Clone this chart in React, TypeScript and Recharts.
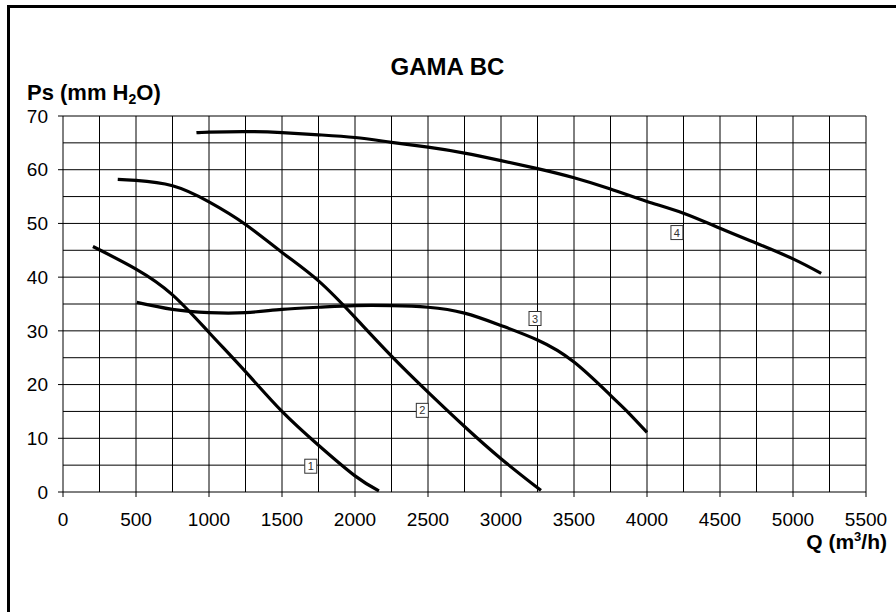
import React from 'react';
import { LineChart, Line, XAxis, YAxis, ReferenceLine, ReferenceDot } from 'recharts';

// Curve 1
const curve1Q = [205, 500, 750, 1000, 1250, 1500, 1750, 2000, 2164];
const curve1P = [45.7, 41.5, 36.7, 29.7, 22.4, 15.0, 8.7, 3.0, 0.2];
// Curve 2
const curve2Q = [375, 500, 750, 1000, 1250, 1500, 1750, 2000, 2250, 2500, 2750, 3000, 3273];
const curve2P = [58.2, 58.0, 57.0, 54.0, 49.8, 44.6, 39.3, 32.5, 25.3, 18.6, 12.2, 6.2, 0.3];
// Curve 3
const curve3Q = [505, 750, 1000, 1250, 1500, 1750, 2000, 2250, 2500, 2750, 3000, 3250, 3500, 3750, 3875, 4000];
const curve3P = [35.3, 34.0, 33.4, 33.4, 34.0, 34.4, 34.7, 34.7, 34.4, 33.3, 31.0, 28.3, 24.2, 18.0, 14.7, 11.1];
// Curve 4
const curve4Q = [914, 1000, 1250, 1500, 1750, 2000, 2250, 2500, 2750, 3000, 3250, 3500, 3750, 4000, 4250, 4500, 4750, 5000, 5193];
const curve4P = [66.9, 67.0, 67.1, 66.9, 66.5, 66.0, 65.1, 64.2, 63.1, 61.7, 60.2, 58.5, 56.4, 54.1, 51.9, 49.1, 46.3, 43.4, 40.7];

const curveLabels = ['1', '2', '3', '4'];
const labelQ = [1697, 2461, 3233, 4205];
const labelP = [4.8, 15.2, 32.3, 48.3];

const xTicks = [0, 500, 1000, 1500, 2000, 2500, 3000, 3500, 4000, 4500, 5000, 5500];
const yTicks = [0, 10, 20, 30, 40, 50, 60, 70];
const xGrid = [250, 500, 750, 1000, 1250, 1500, 1750, 2000, 2250, 2500, 2750, 3000, 3250, 3500, 3750, 4000, 4250, 4500, 4750, 5000, 5250, 5500];
const yGrid = [5, 10, 15, 20, 25, 30, 35, 40, 45, 50, 55, 60, 65, 70];

const toRows = (q: number[], p: number[]) => q.map((v, i) => ({ q: v, p: p[i] }));
const series = [toRows(curve1Q, curve1P), toRows(curve2Q, curve2P), toRows(curve3Q, curve3P), toRows(curve4Q, curve4P)];

const FONT = '"Liberation Sans", Arial, sans-serif';

const BoxLabel = (text: string) => (props: any) => {
  const { cx, cy } = props;
  return (
    <g>
      <rect x={cx - 6} y={cy - 7} width={12} height={14} fill="#fff" stroke="#333" strokeWidth={1} />
      <text x={cx} y={cy + 4} textAnchor="middle" fontSize={11} fontFamily={FONT} fill="#333">{text}</text>
    </g>
  );
};

export default function App() {
  return (
    <div style={{ position: 'absolute', left: 0, top: 0, width: 896, height: 612, overflow: 'hidden', background: '#fff' }}>
      <div style={{ position: 'absolute', left: 7, top: 5, width: 960, height: 700, border: '3px solid #000', boxSizing: 'border-box' }} />
      <div style={{ position: 'absolute', left: 0, top: 0 }}>
        <LineChart width={896} height={612} margin={{ top: 116, right: 30, bottom: 80, left: 0 }}>
          <XAxis
            dataKey="q"
            type="number"
            domain={[0, 5500]}
            ticks={xTicks}
            allowDataOverflow
            height={40}
            tickSize={5}
            tickMargin={16}
            axisLine={{ stroke: '#000' }}
            tickLine={{ stroke: '#000' }}
            tick={{ fill: '#000', fontSize: 19, fontFamily: FONT }}
            interval={0}
          />
          <YAxis
            type="number"
            domain={[0, 70]}
            ticks={yTicks}
            allowDataOverflow
            width={63}
            tickSize={5}
            tickMargin={10}
            axisLine={{ stroke: '#000' }}
            tickLine={{ stroke: '#000' }}
            tick={{ fill: '#000', fontSize: 19, fontFamily: FONT }}
            interval={0}
          />
          {xGrid.map((v) => (
            <ReferenceLine key={'gx' + v} x={v} stroke="#000" strokeWidth={1} ifOverflow="visible" />
          ))}
          {yGrid.map((v) => (
            <ReferenceLine key={'gy' + v} y={v} stroke="#000" strokeWidth={1} ifOverflow="visible" />
          ))}
          {series.map((d, i) => (
            <Line
              key={'s' + i}
              data={d}
              dataKey="p"
              type="natural"
              stroke="#000"
              strokeWidth={3.2}
              dot={false}
              activeDot={false}
              isAnimationActive={false}
            />
          ))}
          {curveLabels.map((t, i) => (
            <ReferenceDot key={'l' + i} x={labelQ[i]} y={labelP[i]} r={6} shape={BoxLabel(t)} />
          ))}
        </LineChart>
      </div>
      <svg width={896} height={612} style={{ position: 'absolute', left: 0, top: 0, pointerEvents: 'none' }}>
        <text x={447.5} y={75} textAnchor="middle" fontSize={24} fontWeight="bold" fontFamily={FONT} fill="#000">GAMA BC</text>
        <text x={27} y={100} fontSize={22} fontWeight="bold" fontFamily={FONT} fill="#000">
          Ps (mm H<tspan fontSize={14} dy={4}>2</tspan><tspan dy={-4}>O)</tspan>
        </text>
        <text x={887} y={549} textAnchor="end" fontSize={21} fontWeight="bold" fontFamily={FONT} fill="#000">
          Q (m<tspan fontSize={13} dy={-8}>3</tspan><tspan dy={8}>/h)</tspan>
        </text>
      </svg>
    </div>
  );
}
